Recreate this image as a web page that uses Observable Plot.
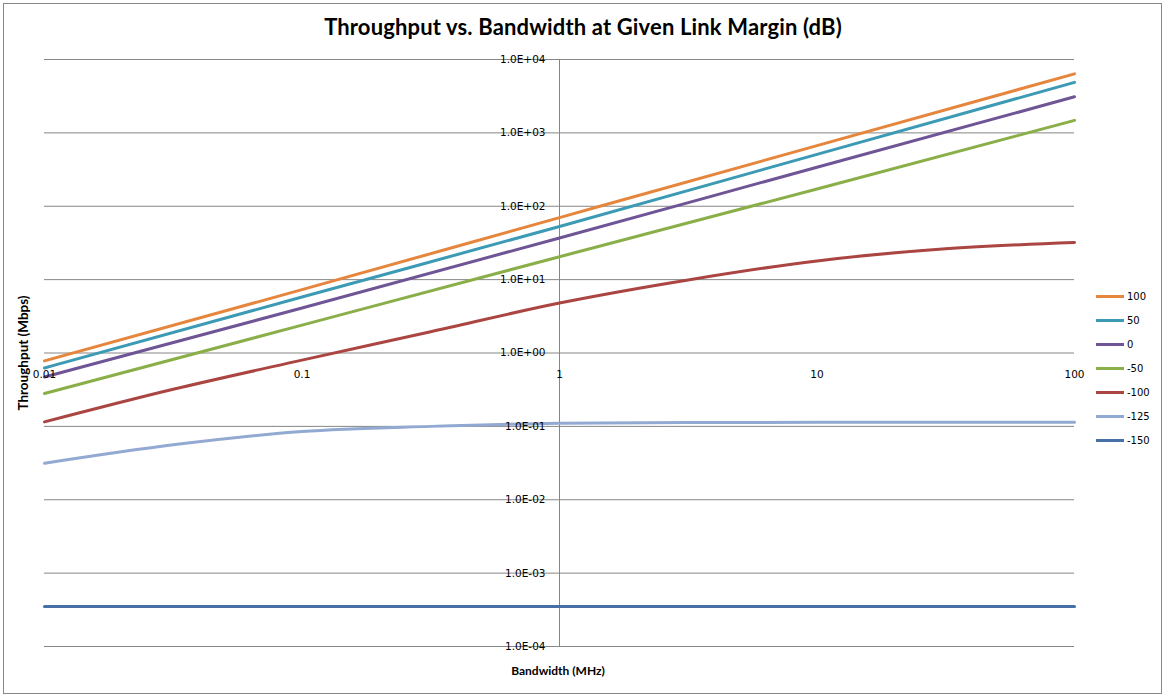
<!DOCTYPE html>
<html>
<head>
<meta charset="utf-8">
<script src="https://cdn.jsdelivr.net/npm/d3@7"></script>
<script src="https://cdn.jsdelivr.net/npm/@observablehq/plot@0.6"></script>
<style>
  html, body { margin: 0; padding: 0; background: #ffffff; }
  #wrap { position: relative; width: 1165px; height: 696px; overflow: hidden; }
  #border { position: absolute; left: 3px; top: 3px; width: 1157px; height: 689px; border: 1px solid #878787; box-sizing: content-box; }
  .ov { position: absolute; white-space: nowrap; color: #000; }
  #title { left: 0; width: 1166px; top: 13px; text-align: center; font: bold 22px Lato, "DejaVu Sans", sans-serif; letter-spacing: 0.15px; }
  #ytitle { left: 23px; top: 353px; transform: translate(-50%, -50%) rotate(-90deg); font: bold 13.5px Lato, sans-serif; }
  #xtitle { left: 558px; top: 670px; transform: translate(-50%, -50%); font: bold 12px Lato, sans-serif; }
  #legend { left: 1096px; top: 287px; font: 10px "DejaVu Sans", sans-serif; }
  .li { height: 24.1px; display: flex; align-items: center; position: relative; top: -3px; }
  .sw { width: 28px; height: 3px; margin-right: 3px; }
  svg text { font-family: "DejaVu Sans", sans-serif; }
</style>
</head>
<body>
<div id="wrap">
  <div id="border"></div>
  <div id="chart"></div>
  <div class="ov" id="title">Throughput vs. Bandwidth at Given Link Margin (dB)</div>
  <div class="ov" id="ytitle">Throughput (Mbps)</div>
  <div class="ov" id="xtitle">Bandwidth (MHz)</div>
  <div class="ov" id="legend"></div>
</div>
<script>
// Link margin series (dB) and colours
const seriesNames = ["100", "50", "0", "-50", "-100", "-125", "-150"];
const seriesColors = ["#E6853C", "#3C9AB4", "#6F5595", "#8AAE48", "#AB4542", "#92A9D2", "#4670A6"];

// Bandwidth sample points (MHz)
const bwDecades = [0.01, 0.1, 1, 10, 100];
const bwFine = [0.01, 0.0316, 0.1, 0.316, 1, 3.16, 10, 31.6, 100];

// Throughput values (Mbps)
const tp100 = [0.78, 7.3, 70, 670, 6380];
const tp50 = [0.625, 5.8, 53, 510, 4880];
const tp0 = [0.47, 4.1, 37, 340, 3100];
const tpm50 = [0.28, 2.4, 20.5, 172, 1480];
const tpm100 = [0.115, 0.32, 0.80, 1.95, 4.8, 9.9, 18, 26.3, 32];
const tpm125 = [0.0314, 0.056, 0.085, 0.100, 0.110, 0.113, 0.1135, 0.114, 0.114];
const tpm150 = [3.5e-4, 3.5e-4, 3.5e-4, 3.5e-4, 3.5e-4];

// Axis ticks
const xTicks = [0.01, 0.1, 1, 10, 100];
const xTickLabels = ["0.01", "0.1", "1", "10", "100"];
const yTicks = [1e-4, 1e-3, 1e-2, 1e-1, 1e0, 1e1, 1e2, 1e3, 1e4];
const yTickLabels = ["1.0E-04", "1.0E-03", "1.0E-02", "1.0E-01", "1.0E+00", "1.0E+01", "1.0E+02", "1.0E+03", "1.0E+04"];

const seriesData = [
  [bwDecades, tp100], [bwDecades, tp50], [bwDecades, tp0], [bwDecades, tpm50],
  [bwFine, tpm100], [bwFine, tpm125], [bwDecades, tpm150]
];
const rows = [];
seriesData.forEach(([xs, ys], i) => {
  xs.forEach((x, j) => rows.push({series: seriesNames[i], bw: x, tp: ys[j]}));
});
const xTickData = xTicks.map((v, i) => ({v, label: xTickLabels[i]}));
const yTickData = yTicks.map((v, i) => ({v, label: yTickLabels[i]}));

const tickFont = '"DejaVu Sans", sans-serif';
const chart = Plot.plot({
  width: 1165,
  height: 696,
  marginLeft: 44,
  marginRight: 91,
  marginTop: 59,
  marginBottom: 50,
  style: {background: "transparent", fontFamily: tickFont, fontSize: "10px"},
  x: {type: "log", domain: [0.01, 100], axis: null},
  y: {type: "log", domain: [1e-4, 1e4], axis: null},
  color: {domain: seriesNames, range: seriesColors},
  marks: [
    Plot.ruleY(yTicks, {stroke: "#868686", strokeWidth: 1, strokeOpacity: 1}),
    Plot.ruleX([1], {y1: 1e-4, y2: 1e4, stroke: "#868686", strokeWidth: 1, strokeOpacity: 1}),
    Plot.line(rows, {x: "bw", y: "tp", z: "series", stroke: "series", strokeWidth: 3, curve: "monotone-x"}),
    Plot.text(yTickData, {x: () => 1, y: "v", text: "label", textAnchor: "end", dx: -14, fontSize: 10.5, fontFamily: tickFont, fill: "#000"}),
    Plot.text(xTickData, {x: "v", y: () => 1, text: "label", dy: 22, fontSize: 10.5, fontFamily: tickFont, fill: "#000"})
  ]
});
document.getElementById("chart").appendChild(chart);

const legend = document.getElementById("legend");
seriesNames.forEach((name, i) => {
  const item = document.createElement("div");
  item.className = "li";
  const sw = document.createElement("div");
  sw.className = "sw";
  sw.style.background = seriesColors[i];
  const lab = document.createElement("span");
  lab.textContent = name;
  item.appendChild(sw);
  item.appendChild(lab);
  legend.appendChild(item);
});
</script>
</body>
</html>
